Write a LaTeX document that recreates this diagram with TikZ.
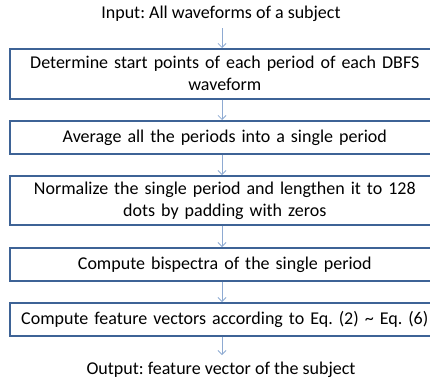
\documentclass[tikz,border=0pt]{standalone}
\usepackage{fontspec}
\setmainfont{Carlito}
\usetikzlibrary{arrows.meta}
\definecolor{boxblue}{HTML}{3E6396}
\definecolor{arrblue}{HTML}{8EAAD2}
\frenchspacing
\begin{document}
\begin{tikzpicture}[x=1pt,y=-1pt,
  stepbox/.style={draw=boxblue,line width=1.6pt,fill=white,minimum width=430pt,text width=410pt,align=center,inner sep=0pt,anchor=north west,font=\fontsize{18}{22}\selectfont},
  plain/.style={font=\fontsize{18}{22}\selectfont,inner sep=0pt},
  conn/.style={draw=arrblue,line width=0.9pt,-{Straight Barb[length=4pt,width=8pt,line width=0.8pt]}}]
\useasboundingbox (0,0) rectangle (430,383);
\node[plain] (in) at (221,14) {Input: All waveforms of a subject};
\node[stepbox,minimum height=50pt] (b1) at (9,48) {Determine start points of each period of each DBFS\\waveform};
\node[stepbox,minimum height=33pt] (b2) at (9,120) {Average all the periods into a single period};
\node[stepbox,minimum height=49pt] (b3) at (9,175) {Normalize the single period and lengthen it to 128\\dots by padding with zeros};
\node[stepbox,minimum height=33pt] (b4) at (9,247) {Compute bispectra of the single period};
\node[stepbox,minimum height=33pt] (b5) at (9,302) {Compute feature vectors according to Eq. (2) \char`~{} Eq. (6)};
\node[plain] (out) at (221,370) {Output: feature vector of the subject};
\coordinate (a0) at (222,28);
\draw[conn] (a0) -- (a0 |- b1.north);
\draw[conn] (a0 |- b1.south) -- (a0 |- b2.north);
\draw[conn] (a0 |- b2.south) -- (a0 |- b3.north);
\draw[conn] (a0 |- b3.south) -- (a0 |- b4.north);
\draw[conn] (a0 |- b4.south) -- (a0 |- b5.north);
\coordinate (a6) at (222,355);
\draw[conn] (a0 |- b5.south) -- (a6);
\end{tikzpicture}
\end{document}
